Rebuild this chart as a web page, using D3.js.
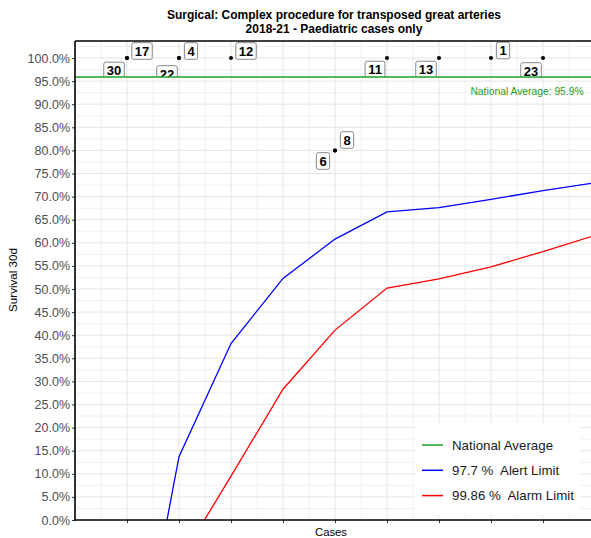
<!DOCTYPE html>
<html><head><meta charset="utf-8">
<script src="https://cdn.jsdelivr.net/npm/d3@7"></script>
<style>body{margin:0;background:#fff;} svg{display:block;font-family:"Liberation Sans",Arial,sans-serif;} text{white-space:pre;}</style>
</head><body>
<script>
// ---- data ----
const titleLines = ["Surgical: Complex procedure for transposed great arteries", "2018-21 - Paediatric cases only"];
const nationalAverage = 0.959;
const limitCases = [1, 2, 3, 4, 5, 6, 7, 8, 9, 10];
const alertLimit = [-0.457, 0.137, 0.382, 0.523, 0.608, 0.667, 0.676, 0.694, 0.713, 0.730];
const alarmLimit = [-0.50, -0.091, 0.095, 0.283, 0.411, 0.502, 0.522, 0.548, 0.581, 0.616];
const hospitalIds = ["17", "30", "4", "22", "12", "11", "13", "1", "23", "8", "6"];
const hospitalCases = [1, 1, 2, 2, 3, 6, 7, 8, 9, 5, 5];
const hospitalSurvival = [1, 1, 1, 1, 1, 1, 1, 1, 1, 0.8, 0.8];
const yTicks = d3.range(0, 101, 5).map(v => v / 100);
const legendLabels = ["National Average", "97.7 %  Alert Limit", "99.86 %  Alarm Limit"];
// label placement (repel-style offsets in px)
const labelOffsets = [[15,-7],[-13,12.5],[12,-7],[-12,16],[15,-7],[-12,11.5],[-13,11.5],[12,-7.5],[-12,13],[12,-10.4],[-12,10.6]];

const W = 591, H = 538;
const m = {left: 75, top: 41, bottom: 520, right: 595};
const x = d3.scaleLinear().domain([0, 10]).range([m.left, m.left + 520]);
const y = d3.scaleLinear().domain([0, 1]).range([m.bottom, m.bottom - 462]);
const green = "#22a022";

const svg = d3.select("body").append("svg").attr("width", W).attr("height", H);
svg.append("rect").attr("width", W).attr("height", H).attr("fill", "#fff");

svg.append("defs").append("clipPath").attr("id", "panel")
  .append("rect").attr("x", m.left).attr("y", m.top).attr("width", m.right - m.left).attr("height", m.bottom - m.top);
svg.select("defs").append("clipPath").attr("id", "topclip")
  .append("rect").attr("x", m.left).attr("y", m.top).attr("width", m.right - m.left).attr("height", y(nationalAverage) - m.top);

// grid
const grid = svg.append("g").attr("clip-path", "url(#panel)");
const minorX = d3.range(0.5, 10.5, 1), majorX = d3.range(1, 11, 1);
const minorY = d3.range(0.025, 1.05, 0.05), majorY = d3.range(0.05, 1.05, 0.05);
grid.selectAll(".mx").data(minorX).join("line").attr("x1", d => x(d)).attr("x2", d => x(d)).attr("y1", m.top).attr("y2", m.bottom).attr("stroke", "#f0f0f0").attr("stroke-width", 1);
grid.selectAll(".my").data(minorY).join("line").attr("y1", d => y(d)).attr("y2", d => y(d)).attr("x1", m.left).attr("x2", m.right).attr("stroke", "#f0f0f0").attr("stroke-width", 1);
grid.selectAll(".Mx").data(majorX).join("line").attr("x1", d => x(d)).attr("x2", d => x(d)).attr("y1", m.top).attr("y2", m.bottom).attr("stroke", "#e5e5e5").attr("stroke-width", 1);
grid.selectAll(".My").data(majorY).join("line").attr("y1", d => y(d)).attr("y2", d => y(d)).attr("x1", m.left).attr("x2", m.right).attr("stroke", "#e5e5e5").attr("stroke-width", 1);

// limit lines
const plot = svg.append("g").attr("clip-path", "url(#panel)");
const line = d3.line().x((d, i) => x(limitCases[i])).y(d => y(d));
plot.append("path").attr("d", line(alertLimit)).attr("fill", "none").attr("stroke", "#0000ff").attr("stroke-width", 1.3);
plot.append("path").attr("d", line(alarmLimit)).attr("fill", "none").attr("stroke", "#ff0000").attr("stroke-width", 1.3);

// labels
const labs = hospitalIds.map((id, i) => ({id, n: hospitalCases[i], s: hospitalSurvival[i], off: labelOffsets[i]}));
labs.forEach(d => {
  const g = svg.append("g");
  if (d.s === 1 && d.off[1] > 0) g.attr("clip-path", "url(#topclip)");
  const cx = x(d.n) + d.off[0], cy = y(d.s) + d.off[1];
  const t = g.append("text").attr("x", cx).attr("y", cy + 4.6).attr("text-anchor", "middle")
    .attr("font-size", 13).attr("font-weight", "bold").attr("fill", "#000").text(d.id);
  const w = t.node().getComputedTextLength();
  g.insert("rect", "text").attr("x", cx - w / 2 - 3).attr("y", cy - 8.3).attr("width", w + 6).attr("height", 16.6)
    .attr("rx", 2).attr("fill", "#fff").attr("stroke", "#7a7a7a").attr("stroke-width", 0.9);
});

// points
svg.append("g").selectAll("circle").data(labs).join("circle")
  .attr("cx", d => x(d.n)).attr("cy", d => y(d.s)).attr("r", 2).attr("fill", "#000");

// national average line
svg.append("line").attr("x1", m.left).attr("x2", m.right).attr("y1", y(nationalAverage)).attr("y2", y(nationalAverage))
  .attr("stroke", green).attr("stroke-width", 1.5);
svg.append("text").attr("x", 527).attr("y", 94.5).attr("text-anchor", "middle").attr("font-size", 10.3).attr("fill", green)
  .text("National Average: " + (nationalAverage * 100).toFixed(1) + "%");

// axes
const yAxis = d3.axisLeft(y).tickValues(yTicks).tickFormat(d3.format(".1%")).tickSize(3).tickPadding(2);
const gy = svg.append("g").attr("transform", `translate(${m.left},0)`).call(yAxis);
gy.select(".domain").remove();
gy.selectAll("text").attr("font-size", 12.5).attr("fill", "#4d4d4d").attr("font-family", "Liberation Sans, Arial, sans-serif");
gy.selectAll("line").attr("stroke", "#333");
const xAxis = d3.axisBottom(x).tickValues(majorX).tickFormat("").tickSize(3);
const gx = svg.append("g").attr("transform", `translate(0,${m.bottom})`).call(xAxis);
gx.select(".domain").remove();
gx.selectAll("line").attr("stroke", "#333");

svg.append("line").attr("x1", m.left).attr("x2", m.left).attr("y1", m.top).attr("y2", m.bottom + 0.75).attr("stroke", "#000").attr("stroke-width", 1.6);
svg.append("line").attr("x1", m.left).attr("x2", W).attr("y1", m.bottom).attr("y2", m.bottom).attr("stroke", "#000").attr("stroke-width", 1.6);
svg.append("line").attr("x1", m.left).attr("x2", W).attr("y1", m.top).attr("y2", m.top).attr("stroke", "#000").attr("stroke-width", 1.6);

// titles
const tt = svg.append("text").attr("text-anchor", "middle").attr("font-size", 12).attr("font-weight", "bold").attr("fill", "#000");
tt.append("tspan").attr("x", 334).attr("y", 19).text(titleLines[0]);
tt.append("tspan").attr("x", 334).attr("y", 33).text(titleLines[1]);
svg.append("text").attr("x", 331).attr("y", 536).attr("text-anchor", "middle").attr("font-size", 11.3).attr("fill", "#000").text("Cases");
svg.append("text").attr("transform", "translate(17,280) rotate(-90)").attr("text-anchor", "middle").attr("font-size", 11.6).attr("fill", "#000").text("Survival 30d");

// legend
const lg = svg.append("g");
lg.append("rect").attr("x", 415).attr("y", 423).attr("width", 165).attr("height", 92).attr("fill", "#fff");
const lcol = [green, "#0000ff", "#ff0000"];
legendLabels.forEach((l, i) => {
  const ly = 445 + i * 25.3;
  lg.append("line").attr("x1", 422).attr("x2", 443).attr("y1", ly).attr("y2", ly).attr("stroke", lcol[i]).attr("stroke-width", 1.5);
  lg.append("text").attr("x", 452).attr("y", ly + 4.8).attr("font-size", 13.3).attr("fill", "#1a1a1a").attr("xml:space", "preserve").text(l);
});
</script>
</body></html>
